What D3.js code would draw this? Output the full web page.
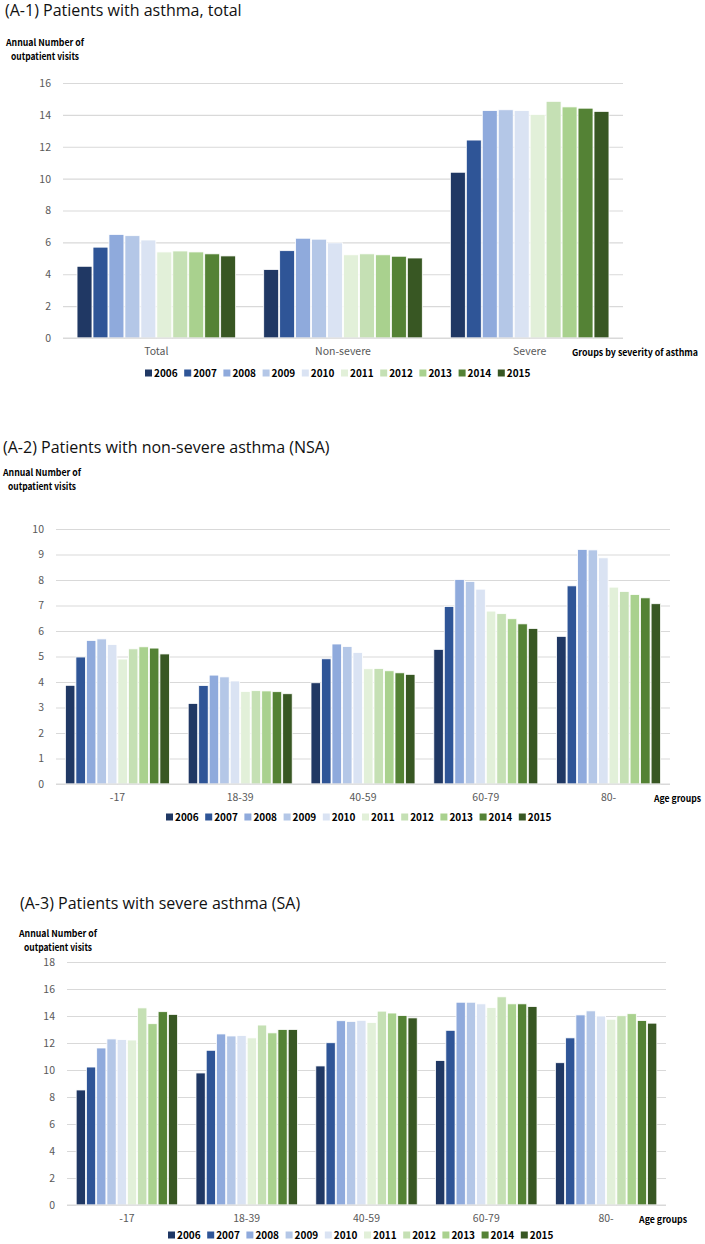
<!DOCTYPE html>
<html>
<head>
<meta charset="utf-8">
<script src="https://cdn.jsdelivr.net/npm/d3@7"></script>
<style>
  html, body { margin: 0; padding: 0; background: #fff; }
  svg { display: block; font-family: "Open Sans", "Noto Sans", sans-serif; }
</style>
</head>
<body>
<svg id="chart" width="705" height="1244"></svg>
<script>
// ---------- data ----------
const years = ["2006","2007","2008","2009","2010","2011","2012","2013","2014","2015"];
const yearColors = ["#203864","#2f5597","#8faadc","#b4c7e7","#dae3f3","#e2f0d9","#c5e0b4","#a9d18e","#548235","#385723"];

const severityGroups = ["Total","Non-severe","Severe"];
const ageGroups = ["-17","18-39","40-59","60-79","80-"];

// (A-1) all patients, by severity group
const a1Total     = [4.50, 5.70, 6.50, 6.42, 6.15, 5.40, 5.46, 5.40, 5.28, 5.15];
const a1NonSevere = [4.30, 5.48, 6.26, 6.20, 5.97, 5.22, 5.28, 5.22, 5.13, 5.02];
const a1Severe    = [10.40, 12.42, 14.27, 14.32, 14.27, 14.03, 14.85, 14.50, 14.42, 14.22];

// (A-2) non-severe asthma, by age group
const a2Age0_17  = [3.87, 4.98, 5.63, 5.69, 5.47, 4.90, 5.30, 5.38, 5.33, 5.10];
const a2Age18_39 = [3.16, 3.86, 4.27, 4.20, 4.04, 3.63, 3.66, 3.65, 3.62, 3.54];
const a2Age40_59 = [3.97, 4.91, 5.49, 5.39, 5.16, 4.52, 4.53, 4.44, 4.36, 4.30];
const a2Age60_79 = [5.28, 6.96, 8.02, 7.94, 7.64, 6.78, 6.68, 6.48, 6.28, 6.10];
const a2Age80    = [5.79, 7.77, 9.20, 9.18, 8.87, 7.72, 7.55, 7.43, 7.30, 7.07];

// (A-3) severe asthma, by age group
const a3Age0_17  = [8.52, 10.22, 11.63, 12.30, 12.25, 12.22, 14.60, 13.43, 14.32, 14.12];
const a3Age18_39 = [9.78, 11.46, 12.67, 12.52, 12.55, 12.38, 13.33, 12.75, 13.00, 13.00];
const a3Age40_59 = [10.30, 12.02, 13.65, 13.60, 13.68, 13.52, 14.36, 14.22, 14.03, 13.86];
const a3Age60_79 = [10.70, 12.94, 15.02, 15.02, 14.90, 14.62, 15.42, 14.90, 14.90, 14.70];
const a3Age80    = [10.54, 12.38, 14.08, 14.38, 14.00, 13.76, 14.02, 14.17, 13.66, 13.47];

const a1Ticks = [0, 2, 4, 6, 8, 10, 12, 14, 16];
const a2Ticks = [0, 1, 2, 3, 4, 5, 6, 7, 8, 9, 10];
const a3Ticks = [0, 2, 4, 6, 8, 10, 12, 14, 16, 18];

const titles = [
  "(A-1) Patients with asthma, total",
  "(A-2) Patients with non-severe asthma (NSA)",
  "(A-3) Patients with severe asthma (SA)"
];
const yTitleLines = ["Annual Number of", "outpatient visits"];
const xTitles = ["Groups by severity of asthma", "Age groups", "Age groups"];

// ---------- drawing ----------
const svg = d3.select("#chart");
const smallFont = "\"Noto Sans CJK KR\", \"Noto Sans\", sans-serif";

function drawChart(cfg) {
  const g = svg.append("g");
  const x0 = d3.scaleBand().domain(cfg.categories).range([cfg.left, cfg.right])
    .paddingInner(0.145).paddingOuter(0.0725);
  const x1 = d3.scaleBand().domain(years).range([0, x0.bandwidth()]).paddingInner(0.0).paddingOuter(0);
  const y = d3.scaleLinear().domain([0, d3.max(cfg.ticks)]).range([cfg.bottom, cfg.top]);

  // title
  g.append("text").attr("x", cfg.titleX).attr("y", cfg.titleY)
    .attr("font-size", 16).attr("fill", "#111").text(cfg.title);

  // y-axis title
  const yTitleWidths = [78, 68];
  yTitleLines.forEach((t, i) => {
    g.append("text").attr("x", cfg.yTitleX).attr("y", cfg.yTitleY + i * 13.5)
      .attr("text-anchor", "middle").attr("font-size", 9.5).attr("font-weight", "bold")
      .attr("font-family", smallFont).attr("fill", "#000")
      .attr("textLength", yTitleWidths[i]).attr("lengthAdjust", "spacingAndGlyphs")
      .text(t);
  });

  // gridlines + tick labels
  const yAxis = d3.axisLeft(y).tickValues(cfg.ticks).tickSize(-(cfg.right - cfg.left)).tickPadding(12);
  const ax = g.append("g").attr("transform", `translate(${cfg.left},0)`).call(yAxis);
  ax.select(".domain").remove();
  ax.selectAll(".tick line").attr("stroke", "#d9d9d9").attr("stroke-width", 1.2);
  ax.selectAll(".tick text").attr("font-size", 10.5).attr("fill", "#595959")
    .attr("font-family", smallFont);

  // bars
  const grp = g.selectAll(".grp").data(cfg.categories.map((c, i) => ({ c, vals: cfg.series[i] })))
    .enter().append("g").attr("transform", d => `translate(${x0(d.c)},0)`);
  grp.selectAll("rect").data(d => d.vals.map((v, j) => ({ year: years[j], v, j })))
    .enter().append("rect")
    .attr("x", d => x1(d.year) + 0.5)
    .attr("width", x1.bandwidth() - 1)
    .attr("y", d => y(d.v))
    .attr("height", d => y(0) - y(d.v))
    .attr("fill", d => yearColors[d.j])
    .attr("stroke", "#ffffff").attr("stroke-width", 0.8);

  // baseline
  g.append("line").attr("x1", cfg.left).attr("x2", cfg.right)
    .attr("y1", y(0)).attr("y2", y(0)).attr("stroke", "#d9d9d9").attr("stroke-width", 1.2);

  // category labels
  const xAxis = d3.axisBottom(x0).tickSize(0).tickPadding(10);
  const xa = g.append("g").attr("transform", `translate(0,${y(0)})`).call(xAxis);
  xa.select(".domain").remove();
  xa.selectAll(".tick text").attr("font-size", 10.5).attr("fill", "#595959")
    .attr("font-family", smallFont);

  // x-axis title
  g.append("text").attr("x", cfg.xTitleX).attr("y", y(0) + 18)
    .attr("font-size", 9).attr("font-weight", "bold").attr("font-family", smallFont)
    .attr("fill", "#000")
    .attr("textLength", cfg.xTitleW).attr("lengthAdjust", "spacingAndGlyphs")
    .text(cfg.xTitle);

  // legend
  const leg = g.append("g").attr("transform", `translate(${cfg.legendX},${cfg.legendY})`);
  const li = leg.selectAll("g").data(years).enter().append("g")
    .attr("transform", (d, i) => `translate(${i * 39.2},0)`);
  li.append("rect").attr("x", 0).attr("y", -3.5).attr("width", 7).attr("height", 7)
    .attr("fill", (d, i) => yearColors[i]);
  li.append("text").attr("x", 9).attr("y", 3.8).attr("font-size", 10).attr("font-weight", "bold")
    .attr("font-family", smallFont).attr("fill", "#000").text(d => d);
}

drawChart({
  title: titles[0], titleX: 5, titleY: 16,
  yTitleX: 45, yTitleY: 46,
  categories: severityGroups,
  series: [a1Total, a1NonSevere, a1Severe],
  ticks: a1Ticks,
  left: 63, right: 623, top: 83, bottom: 338,
  xTitle: xTitles[0], xTitleX: 572, xTitleW: 126,
  legendX: 145, legendY: 373
});

drawChart({
  title: titles[1], titleX: 3, titleY: 453,
  yTitleX: 42, yTitleY: 476,
  categories: ageGroups,
  series: [a2Age0_17, a2Age18_39, a2Age40_59, a2Age60_79, a2Age80],
  ticks: a2Ticks,
  left: 56, right: 670, top: 529, bottom: 784,
  xTitle: xTitles[1], xTitleX: 654, xTitleW: 47,
  legendX: 166, legendY: 817
});

drawChart({
  title: titles[2], titleX: 20, titleY: 909,
  yTitleX: 58, yTitleY: 937,
  categories: ageGroups,
  series: [a3Age0_17, a3Age18_39, a3Age40_59, a3Age60_79, a3Age80],
  ticks: a3Ticks,
  left: 67, right: 666, top: 962, bottom: 1205,
  xTitle: xTitles[2], xTitleX: 639, xTitleW: 48,
  legendX: 168, legendY: 1235
});
</script>
</body>
</html>
